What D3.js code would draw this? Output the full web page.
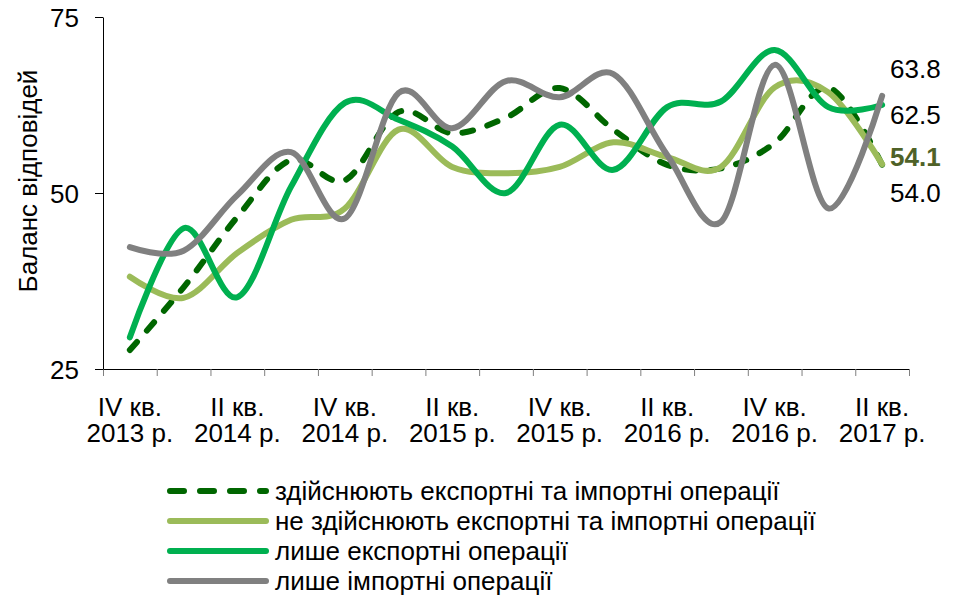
<!DOCTYPE html>
<meta charset="utf-8">
<script src="https://cdn.jsdelivr.net/npm/d3@7/dist/d3.min.js"></script>
<style>
body { margin: 0; background: #fff; }
svg { font-family: "Liberation Sans", Arial, sans-serif; }
.axis text { font-size: 26px; fill: #000; }
.axis path { stroke: #000; }
.axis line { stroke: #000; }
.axis--x line { stroke: #7f7f7f; }
.line { fill: none; stroke-width: 6px; }
.legend text { font-size: 26px; }
.end-label { font-size: 26px; }
</style>
<div id="chart"></div>
<script>
var quarters = ["IV кв.", "I кв.", "II кв.", "III кв.", "IV кв.", "I кв.", "II кв.", "III кв.",
                "IV кв.", "I кв.", "II кв.", "III кв.", "IV кв.", "I кв.", "II кв."];
var years = ["2013 р.", "2014 р.", "2014 р.", "2014 р.", "2014 р.", "2015 р.", "2015 р.", "2015 р.",
             "2015 р.", "2016 р.", "2016 р.", "2016 р.", "2016 р.", "2017 р.", "2017 р."];

var bothOps    = [27.7, 36.6, 46.6, 54.7, 51.8, 61.5, 58.5, 60.7, 64.9, 59.0, 54.0, 53.5, 57.1, 65.0, 54.0];
var noneOps    = [38.1, 35.1, 41.5, 46.2, 47.8, 59.0, 53.7, 52.8, 53.7, 57.2, 55.1, 53.7, 65.0, 64.3, 54.1];
var exportOnly = [29.5, 45.0, 35.2, 50.9, 62.8, 60.4, 56.6, 50.0, 59.7, 53.3, 62.2, 63.0, 70.3, 62.2, 62.5];
var importOnly = [42.3, 41.8, 49.7, 55.8, 46.4, 64.2, 59.2, 65.9, 63.6, 66.9, 55.4, 45.9, 68.2, 47.8, 63.8];

var seriesNames = ["здійснюють експортні та імпортні операції",
                   "не здійснюють експортні та імпортні операції",
                   "лише експортні операції",
                   "лише імпортні операції"];
var yTicks = [25, 50, 75];

var endLabels = ["63.8", "62.5", "54.1", "54.0"];

(function() {
var width = 956, height = 596;
var pLeft = 103, pRight = 909, pTop = 17, pBottom = 369;

var svg = d3.select("#chart").append("svg")
    .attr("width", width)
    .attr("height", height);

var xEdge = d3.scaleLinear().domain([0, quarters.length]).range([pLeft, pRight]);
var x = function(i) { return xEdge(i + 0.5); };
var y = d3.scaleLinear().domain([25, 75]).range([pBottom, pTop]);

// axes
svg.append("g")
    .attr("class", "axis axis--x")
    .attr("transform", "translate(0," + pBottom + ")")
    .call(d3.axisBottom(xEdge).tickValues(d3.range(quarters.length + 1)).tickFormat("").tickSize(7).tickSizeOuter(0));

svg.append("g")
    .attr("class", "axis axis--y")
    .attr("transform", "translate(" + pLeft + ",0)")
    .call(d3.axisLeft(y).tickValues(yTicks).tickSize(8).tickSizeOuter(0).tickPadding(16))
  .selectAll("text")
    .attr("dy", "0.35em");

var xl = svg.append("g").attr("class", "axis");
quarters.forEach(function(q, i) {
  if (i % 2) return;
  var t = xl.append("text")
      .attr("text-anchor", "middle")
      .attr("x", x(i));
  t.append("tspan").attr("x", x(i)).attr("y", 416).text(q);
  t.append("tspan").attr("x", x(i)).attr("y", 442).text(years[i]);
});

svg.append("text")
    .attr("transform", "translate(37," + ((pTop + pBottom) / 2 - 12) + ") rotate(-90)")
    .attr("text-anchor", "middle")
    .style("font-size", "26px")
    .text("Баланс відповідей");

// lines
var styles = [
  {color: "#006600", dash: "11,15"},
  {color: "#9bbb59", dash: null},
  {color: "#00b050", dash: null},
  {color: "#808080", dash: null}
];
var data = [bothOps, noneOps, exportOnly, importOnly];

var line = d3.line()
    .x(function(d, i) { return x(i); })
    .y(function(d) { return y(d); })
    .curve(d3.curveCardinal.tension(0));

data.forEach(function(s, k) {
  svg.append("path")
      .datum(s)
      .attr("class", "line")
      .attr("stroke", styles[k].color)
      .attr("stroke-linecap", "round")
      .attr("stroke-dasharray", styles[k].dash)
      .attr("d", line);
});

// end labels
var labelVals = [importOnly[14], exportOnly[14], noneOps[14], bothOps[14]];
var labelNudge = [-27, 10, -7, 28];
endLabels.forEach(function(t, k) {
  svg.append("text")
      .attr("class", "end-label")
      .attr("x", 890)
      .attr("y", y(labelVals[k]) + labelNudge[k])
      .attr("dy", "0.35em")
      .attr("fill", k === 2 ? "#4f6228" : "#000")
      .style("font-weight", k === 2 ? "bold" : null)
      .text(t);
});

// legend
var legend = svg.append("g").attr("class", "legend");
seriesNames.forEach(function(name, k) {
  var ly = 491 + k * 30;
  legend.append("line")
      .attr("x1", 170).attr("x2", 266)
      .attr("y1", ly).attr("y2", ly)
      .attr("stroke", styles[k].color)
      .attr("stroke-width", 6)
      .attr("stroke-linecap", "round")
      .attr("stroke-dasharray", styles[k].dash ? "14,16" : null);
  legend.append("text")
      .attr("x", 275)
      .attr("y", ly)
      .attr("dy", "0.35em")
      .text(name);
});
})();
</script>
